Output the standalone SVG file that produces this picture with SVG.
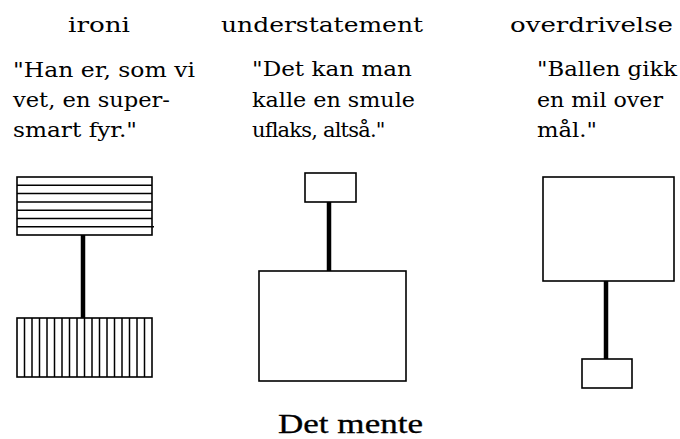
<svg xmlns="http://www.w3.org/2000/svg" width="680" height="439" viewBox="0 0 680 439">
<style>
.bg{fill:#fff}
.box{fill:#fff;stroke:#000;stroke-width:1.6}
.hatch{stroke:#000;stroke-width:1.5;fill:none}
.conn{stroke:#000;stroke-width:4.5;fill:none}
.hd{font-family:"DejaVu Serif","Liberation Serif",serif;font-size:20px;fill:#000}
.q{font-family:"DejaVu Serif","Liberation Serif",serif;font-size:21px;fill:#000}
.ttl{font-family:"Liberation Serif","Times New Roman",serif;font-size:28px;fill:#000;stroke:#000;stroke-width:0.3}
</style>
<rect class="bg" x="0" y="0" width="680" height="439"/>

<g id="headers">
<text class="hd" x="68" y="32" textLength="62" lengthAdjust="spacingAndGlyphs">ironi</text>
<text class="hd" x="221" y="32" textLength="202" lengthAdjust="spacingAndGlyphs">understatement</text>
<text class="hd" x="510" y="32" textLength="163" lengthAdjust="spacingAndGlyphs">overdrivelse</text>
</g>

<g id="quote-ironi">
<text class="q" x="13" y="77" textLength="182" lengthAdjust="spacingAndGlyphs">"Han er, som vi</text>
<text class="q" x="13" y="107" textLength="157" lengthAdjust="spacingAndGlyphs">vet, en super-</text>
<text class="q" x="13" y="137" textLength="124" lengthAdjust="spacingAndGlyphs">smart fyr."</text>
</g>

<g id="quote-understatement">
<text class="q" x="252" y="76" textLength="160" lengthAdjust="spacingAndGlyphs">"Det kan man</text>
<text class="q" x="252" y="107" textLength="163" lengthAdjust="spacingAndGlyphs">kalle en smule</text>
<text class="q" x="252" y="137" letter-spacing="-0.8">uflaks, altså."</text>
</g>

<g id="quote-overdrivelse">
<text class="q" x="537" y="76" textLength="140" lengthAdjust="spacingAndGlyphs">"Ballen gikk</text>
<text class="q" x="537" y="107" textLength="126" lengthAdjust="spacingAndGlyphs">en mil over</text>
<text class="q" x="537" y="137" textLength="60" lengthAdjust="spacingAndGlyphs">mål."</text>
</g>

<g id="connectors">
<line class="conn" x1="83" y1="235" x2="83" y2="318"/>
<line class="conn" x1="329" y1="202" x2="329" y2="271"/>
<line class="conn" x1="606" y1="281" x2="606" y2="359"/>
</g>

<g id="ironi-top">
<rect class="box" x="17" y="177" width="135" height="58"/>
<path class="hatch" d="M17 185.3H152M17 193.6H152M17 201.9H152M17 210.2H152M17 218.5H152M17 226.8H154"/>
</g>

<g id="ironi-bottom">
<rect class="box" x="17" y="318" width="135" height="59"/>
<path class="hatch" d="M24.5 318V377M32 318V377M39.5 318V377M47 318V377M54.5 318V377M62 318V377M69.5 318V377M77 318V377M84.5 318V377M92 318V377M99.5 318V377M107 318V377M114.5 318V377M122 318V377M129.5 318V377M137 318V377M144.5 318V377"/>
</g>

<g id="understatement-top">
<rect class="box" x="305" y="173" width="51" height="29"/>
</g>

<g id="understatement-bottom">
<rect class="box" x="259" y="271" width="147" height="110"/>
</g>

<g id="overdrivelse-top">
<rect class="box" x="543" y="177" width="131" height="104"/>
</g>

<g id="overdrivelse-bottom">
<rect class="box" x="582" y="359" width="50" height="29"/>
</g>

<g id="caption">
<text class="ttl" x="278" y="433" textLength="145" lengthAdjust="spacingAndGlyphs">Det mente</text>
</g>
</svg>
